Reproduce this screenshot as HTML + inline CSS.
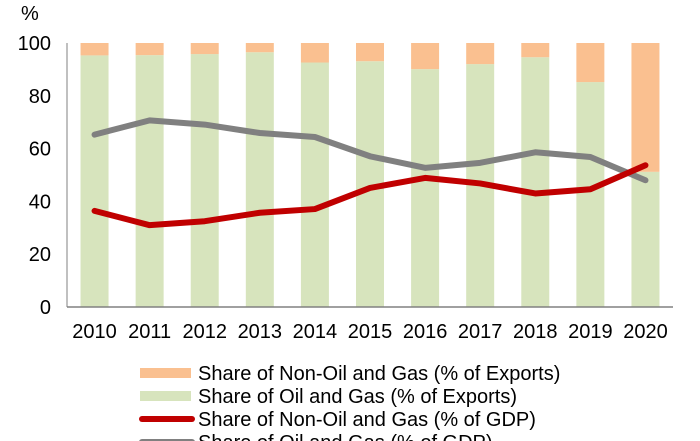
<!DOCTYPE html>
<html><head><meta charset="utf-8"><style>
html,body{margin:0;padding:0;background:#fff;overflow:hidden}
svg{display:block;font-family:"Liberation Sans",Arial,sans-serif}
</style></head><body>
<svg id="chart" width="700" height="441">
<g id="plot"></g>
</svg>
<script>
const years=["2010","2011","2012","2013","2014","2015","2016","2017","2018","2019","2020"];
const oilGasExports=[95.3,95.4,95.8,96.5,92.6,93.1,90.1,92.0,94.6,85.2,51.2];
const nonOilGasExports=[4.7,4.6,4.2,3.5,7.4,6.9,9.9,8.0,5.4,14.8,48.8];
const nonOilGasGDP=[36.4,31.0,32.5,35.7,37.1,45.1,48.9,46.8,43.0,44.6,53.7];
const oilGasGDP=[65.3,70.7,69.1,65.9,64.4,57.1,52.7,54.6,58.6,56.8,48.0];
const yTicks=[0,20,40,60,80,100];

const NS="http://www.w3.org/2000/svg";
const svg=document.getElementById('chart');
const plot=document.getElementById('plot');
const X0=67,X1=673,Y0=307,Y1=43;
const band=(X1-X0)/years.length;
const xC=i=>X0+band*(i+0.5);
const y=v=>Y0-(v/100)*(Y0-Y1);
function mk(tag,attrs,parent){const e=document.createElementNS(NS,tag);for(const k in attrs)e.setAttribute(k,attrs[k]);(parent||plot).appendChild(e);return e;}
const bw=28;
years.forEach((yr,i)=>{
  const g=mk('rect',{x:xC(i)-bw/2,y:y(oilGasExports[i]),width:bw,height:y(0)-y(oilGasExports[i]),fill:'#d7e4bd'});
  
  
  const top=oilGasExports[i]+nonOilGasExports[i];
  const o=mk('rect',{x:xC(i)-bw/2,y:y(top),width:bw,height:y(oilGasExports[i])-y(top),fill:'#fac090'});
  
  
  const t=mk('text',{x:xC(i),y:338,'text-anchor':'middle','font-size':'20',fill:'#000'});
  t.textContent=yr;
  
  
});
const ax=mk('line',{x1:X0,y1:Y0,x2:X1,y2:Y0,stroke:'#808080','stroke-width':1.5});


const ay=mk('line',{x1:X0,y1:Y0,x2:X0,y2:Y1,stroke:'#808080','stroke-width':1});


yTicks.forEach(v=>{
  const t=mk('text',{x:51,y:y(v)+7,'text-anchor':'end','font-size':'20',fill:'#000'});
  t.textContent=v;
  
  
});
const u=mk('text',{x:21,y:20,'font-size':'20',fill:'#000'});
u.textContent='%';


function line(vals,color,name){
  const p=mk('polyline',{points:vals.map((v,i)=>xC(i)+','+y(v)).join(' '),fill:'none',stroke:color,'stroke-width':6,'stroke-linejoin':'round','stroke-linecap':'round'});
  
  
}
line(oilGasGDP,'#808080','line-oil-gas-gdp');
line(nonOilGasGDP,'#c00000','line-non-oil-gas-gdp');
const leg=[["Share of Non-Oil and Gas (% of Exports)",'#fac090','rect','legend-non-oil-gas-exports'],
["Share of Oil and Gas (% of Exports)",'#d7e4bd','rect','legend-oil-gas-exports'],
["Share of Non-Oil and Gas (% of GDP)",'#c00000','line','legend-non-oil-gas-gdp'],
["Share of Oil and Gas (% of GDP)",'#808080','line','legend-oil-gas-gdp']];
leg.forEach((l,i)=>{
  const cy=373+i*23;
  const g=mk('g',{});
  
  
  if(l[2]==='rect')mk('rect',{x:140,y:cy-5,width:51,height:10,fill:l[1]},g);
  else mk('line',{x1:142,y1:cy,x2:192,y2:cy,stroke:l[1],'stroke-width':6,'stroke-linecap':'round'},g);
  const t=mk('text',{x:198,y:cy+7,'font-size':'20',fill:'#000'},g);
  t.textContent=l[0];
});
</script>
</body></html>
